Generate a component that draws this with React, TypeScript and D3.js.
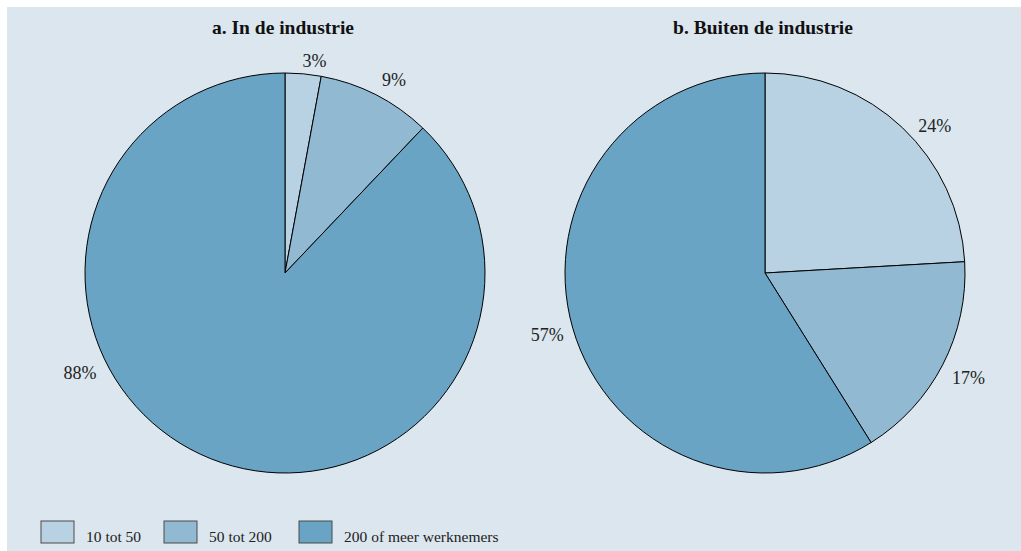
import { useEffect, useRef } from 'react';
import * as d3 from 'd3';

// categories (legend)
const categories = ['10 tot 50', '50 tot 200', '200 of meer werknemers'];
const colors = ['#b8d2e3', '#92b9d2', '#6aa4c4'];

// panel titles
const panelTitles = ['a. In de industrie', 'b. Buiten de industrie'];

// slice shares and printed labels
const sharesIndustrie = [2.9, 9.2, 87.9];
const sharesBuiten = [24.1, 17.0, 58.9];
const labelsIndustrie = ['3%', '9%', '88%'];
const labelsBuiten = ['24%', '17%', '57%'];

// label placement: angle (degrees clockwise from 12 o'clock, null = slice middle) and radius factor
const labelAngleIndustrie: (number | null)[] = [7.9, 29.5, 244.1];
const labelAngleBuiten: (number | null)[] = [49.2, null, null];
const labelRadiusIndustrie = [1.07, 1.108, 1.14];
const labelRadiusBuiten = [1.122, 1.146, 1.133];

const W = 1021;
const H = 551;
const FONT = 'Liberation Serif, DejaVu Serif, serif';

export default function App() {
  const svgRef = useRef<SVGSVGElement>(null);

  useEffect(() => {
    if (!svgRef.current) return;
    const svg = d3.select(svgRef.current);
    svg.selectAll('*').remove();

    // background
    svg.append('rect')
      .attr('x', 7).attr('y', 7)
      .attr('width', W - 7).attr('height', H - 7)
      .attr('fill', '#dbe6ee');

    const radius = 200;
    const centers = [285, 765];
    const cy = 273;

    const pie = d3.pie<number>().sort(null).value(d => d);
    const arc = d3.arc<d3.PieArcDatum<number>>().innerRadius(0).outerRadius(radius);

    const panels = [
      { shares: sharesIndustrie, labels: labelsIndustrie, angles: labelAngleIndustrie, radii: labelRadiusIndustrie },
      { shares: sharesBuiten, labels: labelsBuiten, angles: labelAngleBuiten, radii: labelRadiusBuiten },
    ];

    panels.forEach((p, pi) => {
      const g = svg.append('g')
        .attr('transform', `translate(${centers[pi]},${cy})`);

      const arcs = pie(p.shares);

      g.selectAll('path.slice')
        .data(arcs)
        .enter().append('path')
        .attr('class', 'slice')
        .attr('d', arc)
        .attr('fill', (d, i) => colors[i])
        .attr('stroke', '#000')
        .attr('stroke-width', 1)
        .attr('stroke-linejoin', 'round');

      const labelAngle = (d: d3.PieArcDatum<number>, i: number) =>
        p.angles[i] != null ? (p.angles[i] as number) * Math.PI / 180 : (d.startAngle + d.endAngle) / 2;

      // percentage labels outside the pie
      g.selectAll('text.pct')
        .data(arcs)
        .enter().append('text')
        .attr('class', 'pct')
        .attr('x', (d, i) => Math.sin(labelAngle(d, i)) * radius * p.radii[i])
        .attr('y', (d, i) => -Math.cos(labelAngle(d, i)) * radius * p.radii[i])
        .attr('dy', '0.33em')
        .attr('text-anchor', 'middle')
        .attr('font-family', FONT)
        .attr('font-size', 18)
        .attr('fill', '#222')
        .text((d, i) => p.labels[i]);

      // title
      svg.append('text')
        .attr('x', centers[pi] - 2)
        .attr('y', 34)
        .attr('text-anchor', 'middle')
        .attr('font-family', FONT)
        .attr('font-size', 19.5)
        .attr('font-weight', 'bold')
        .attr('fill', '#111')
        .text(panelTitles[pi]);
    });

    // legend
    const boxX = [41, 164, 299];
    const legend = svg.append('g');
    categories.forEach((c, i) => {
      legend.append('rect')
        .attr('x', boxX[i]).attr('y', 521)
        .attr('width', 33).attr('height', 22)
        .attr('fill', colors[i])
        .attr('stroke', '#4a4a4a')
        .attr('stroke-width', 1);
      legend.append('text')
        .attr('x', boxX[i] + 45)
        .attr('y', 537)
        .attr('dy', '0.35em')
        .attr('font-family', FONT)
        .attr('font-size', 15.5)
        .attr('fill', '#222')
        .text(c);
    });
  }, []);

  return (
    <svg
      ref={svgRef}
      width={W}
      height={H}
      style={{ position: 'absolute', left: 0, top: 0, background: '#fff' }}
    />
  );
}
